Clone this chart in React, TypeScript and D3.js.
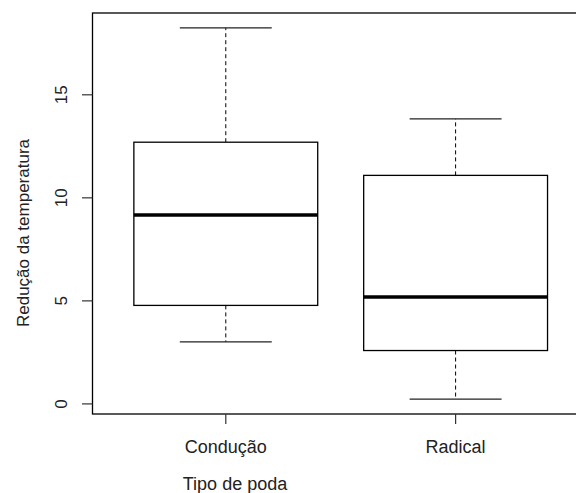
import { useEffect, useRef } from "react";
import * as d3 from "d3";

// values
const groups = ["Condução", "Radical"];
const whiskerLow = [3.01, 0.23];
const quartile1 = [4.78, 2.59];
const medians = [9.17, 5.19];
const quartile3 = [12.7, 11.09];
const whiskerHigh = [18.25, 13.83];
const yTicks = [0, 5, 10, 15];

const W = 576;
const H = 493;
const FONT = "'Liberation Sans', Arial, sans-serif";

export default function App() {
  const svgRef = useRef<SVGSVGElement>(null);

  useEffect(() => {
    if (!svgRef.current) return;
    const svg = d3.select(svgRef.current);
    svg.selectAll("*").remove();

    // R style: group positions 1..n, usr extended by 4%
    const xScale = d3.scaleLinear().domain([0.42, 2.58]).range([92.5, 588.9]);
    const yScale = d3.scaleLinear().domain([-0.49, 18.97]).range([414, 13]);

    const g = svg.append("g");

    // ── Boxes ──────────────────────────────────────────────
    groups.forEach((name, i) => {
      const cx = xScale(i + 1);
      const half = xScale(i + 1.4) - cx;
      const cap = xScale(i + 1.2) - cx;

      // whiskers (dashed)
      g.append("line")
        .attr("x1", cx).attr("x2", cx)
        .attr("y1", yScale(quartile3[i])).attr("y2", yScale(whiskerHigh[i]))
        .attr("stroke", "#000").attr("stroke-width", 1)
        .attr("stroke-dasharray", "4,3");
      g.append("line")
        .attr("x1", cx).attr("x2", cx)
        .attr("y1", yScale(quartile1[i])).attr("y2", yScale(whiskerLow[i]))
        .attr("stroke", "#000").attr("stroke-width", 1)
        .attr("stroke-dasharray", "4,3");

      // caps
      [whiskerHigh[i], whiskerLow[i]].forEach((v) => {
        g.append("line")
          .attr("x1", cx - cap).attr("x2", cx + cap)
          .attr("y1", yScale(v)).attr("y2", yScale(v))
          .attr("stroke", "#222").attr("stroke-width", 1.2);
      });

      // box
      g.append("rect")
        .attr("x", cx - half)
        .attr("y", yScale(quartile3[i]))
        .attr("width", half * 2)
        .attr("height", yScale(quartile1[i]) - yScale(quartile3[i]))
        .attr("fill", "#fff")
        .attr("stroke", "#000")
        .attr("stroke-width", 1.3);

      // median
      g.append("line")
        .attr("x1", cx - half).attr("x2", cx + half)
        .attr("y1", yScale(medians[i])).attr("y2", yScale(medians[i]))
        .attr("stroke", "#000").attr("stroke-width", 3.5);
    });

    // ── Frame ──────────────────────────────────────────────
    g.append("rect")
      .attr("x", xScale(0.42)).attr("y", yScale(18.97))
      .attr("width", xScale(2.58) - xScale(0.42))
      .attr("height", yScale(-0.49) - yScale(18.97))
      .attr("fill", "none").attr("stroke", "#000").attr("stroke-width", 1.3);

    // ── Y axis ─────────────────────────────────────────────
    yTicks.forEach((t) => {
      const y = yScale(t);
      g.append("line")
        .attr("x1", 82).attr("x2", 92.5).attr("y1", y).attr("y2", y)
        .attr("stroke", "#333").attr("stroke-width", 1.2);
      g.append("text")
        .attr("transform", `translate(67,${y}) rotate(-90)`)
        .attr("text-anchor", "middle")
        .attr("font-family", FONT).attr("font-size", 17)
        .attr("fill", "#222")
        .text(String(t));
    });

    // ── X axis ─────────────────────────────────────────────
    groups.forEach((name, i) => {
      const x = xScale(i + 1);
      g.append("line")
        .attr("x1", x).attr("x2", x).attr("y1", 414).attr("y2", 424)
        .attr("stroke", "#333").attr("stroke-width", 1.2);
      g.append("text")
        .attr("x", x).attr("y", 452.5)
        .attr("text-anchor", "middle")
        .attr("font-family", FONT).attr("font-size", 18)
        .attr("fill", "#222")
        .text(name);
    });

    // ── Axis titles ────────────────────────────────────────
    svg.append("text")
      .attr("x", 235).attr("y", 490)
      .attr("text-anchor", "middle")
      .attr("font-family", FONT).attr("font-size", 18)
      .attr("fill", "#222")
      .text("Tipo de poda");

    svg.append("text")
      .attr("transform", "translate(29,233) rotate(-90)")
      .attr("text-anchor", "middle")
      .attr("font-family", FONT).attr("font-size", 17)
      .attr("fill", "#222")
      .text("Redução da temperatura");
  }, []);

  return (
    <svg
      ref={svgRef}
      width={W}
      height={H}
      style={{ position: "absolute", left: 0, top: 0, background: "#fff" }}
    />
  );
}
